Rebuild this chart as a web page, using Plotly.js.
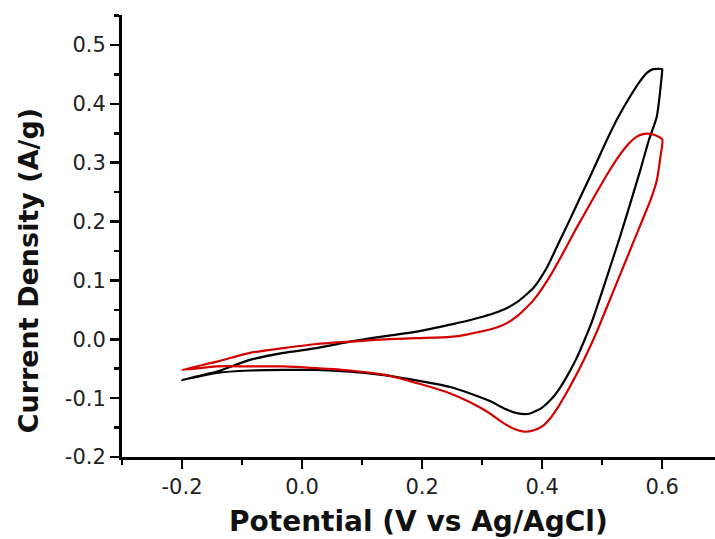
<!DOCTYPE html>
<html>
<head>
<meta charset="utf-8">
<script src="https://cdn.plot.ly/plotly-3.0.1.min.js"></script>
<style>html,body{margin:0;padding:0;background:#fff;}#chart{width:715px;height:539px;}</style>
</head>
<body>
<div id="chart"></div>
<script>
// Black CV loop (forward then reverse scan)
var blackPotential = [-0.2,-0.142,-0.087,-0.031,0.024,0.08,0.136,0.191,0.247,0.274,0.33,0.358,0.386,0.408,0.424,0.447,0.463,0.486,0.508,0.527,0.545,0.562,0.575,0.585,0.6,
  0.6,0.591,0.578,0.562,0.546,0.53,0.514,0.498,0.483,0.469,0.456,0.443,0.43,0.415,0.40,0.38,0.36,0.34,0.313,0.28,0.247,0.197,0.136,0.08,0.024,-0.031,-0.087,-0.142,-0.2];
var blackCurrent = [-0.069,-0.055,-0.035,-0.023,-0.015,-0.004,0.005,0.013,0.025,0.031,0.048,0.063,0.088,0.122,0.156,0.205,0.240,0.290,0.339,0.378,0.41,0.437,0.453,0.459,0.459,
  0.456,0.378,0.339,0.282,0.228,0.175,0.125,0.075,0.030,-0.005,-0.035,-0.060,-0.082,-0.102,-0.116,-0.126,-0.126,-0.119,-0.105,-0.092,-0.081,-0.071,-0.061,-0.055,-0.052,-0.052,-0.053,-0.057,-0.069];

// Red CV loop
var redPotential = [-0.2,-0.142,-0.087,-0.031,0.024,0.08,0.136,0.191,0.247,0.274,0.33,0.358,0.386,0.413,0.441,0.455,0.47,0.49,0.51,0.527,0.543,0.557,0.57,0.585,0.6,
  0.597,0.591,0.58,0.566,0.552,0.538,0.524,0.51,0.496,0.482,0.468,0.454,0.44,0.426,0.413,0.40,0.385,0.37,0.355,0.335,0.31,0.28,0.247,0.197,0.136,0.08,0.024,-0.031,-0.087,-0.142,-0.2];
var redCurrent = [-0.052,-0.038,-0.023,-0.015,-0.008,-0.004,0.0,0.002,0.004,0.008,0.022,0.039,0.067,0.107,0.158,0.185,0.212,0.248,0.283,0.31,0.331,0.344,0.349,0.348,0.340,
  0.31,0.27,0.235,0.2,0.165,0.13,0.095,0.06,0.025,-0.008,-0.038,-0.066,-0.092,-0.116,-0.135,-0.148,-0.155,-0.157,-0.153,-0.142,-0.124,-0.107,-0.092,-0.076,-0.060,-0.053,-0.049,-0.046,-0.046,-0.046,-0.052];

var xTickVals = [-0.2, 0.0, 0.2, 0.4, 0.6];
var xTickText = ["-0.2", "0.0", "0.2", "0.4", "0.6"];
var yTickVals = [-0.2, -0.1, 0.0, 0.1, 0.2, 0.3, 0.4, 0.5];
var yTickText = ["-0.2", "-0.1", "0.0", "0.1", "0.2", "0.3", "0.4", "0.5"];

var xTitle = "Potential (V vs Ag/AgCl)";
var yTitle = "Current Density (A/g)";

var traces = [
  {x: blackPotential, y: blackCurrent, mode: "lines", type: "scatter",
   line: {color: "#000000", width: 2.2, shape: "spline", smoothing: 0.6}, showlegend: false, hoverinfo: "skip"},
  {x: redPotential, y: redCurrent, mode: "lines", type: "scatter",
   line: {color: "#d40000", width: 2.2, shape: "spline", smoothing: 0.6}, showlegend: false, hoverinfo: "skip"}
];

var tickFont = {family: "DejaVu Sans", size: 21, color: "#222222"};
var titleFont = {family: "DejaVu Sans", size: 28, color: "#111111", weight: "bold"};

var layout = {
  width: 715, height: 539,
  margin: {l: 122, r: 0, t: 15, b: 82, pad: 0},
  paper_bgcolor: "#ffffff", plot_bgcolor: "#ffffff",
  xaxis: {
    range: [-0.3, 0.688], showgrid: false, zeroline: false,
    showline: true, linecolor: "#000000", linewidth: 3,
    tickmode: "array", tickvals: xTickVals, ticktext: xTickText,
    ticks: "outside", ticklen: 9, tickwidth: 2.5, tickcolor: "#000000",
    minor: {tickmode: "linear", tick0: -0.3, dtick: 0.1, ticks: "outside", ticklen: 5, tickwidth: 2.5, tickcolor: "#000000"},
    tickfont: tickFont
  },
  yaxis: {
    range: [-0.2, 0.551], showgrid: false, zeroline: false,
    showline: true, linecolor: "#000000", linewidth: 3,
    tickmode: "array", tickvals: yTickVals, ticktext: yTickText,
    ticks: "outside", ticklen: 9, tickwidth: 2.5, tickcolor: "#000000",
    minor: {tickmode: "linear", tick0: -0.25, dtick: 0.1, ticks: "outside", ticklen: 5, tickwidth: 2.5, tickcolor: "#000000"},
    tickfont: tickFont
  },
  annotations: [
    {text: xTitle, xref: "paper", yref: "paper", x: 0.5, y: -0.147, xanchor: "center", yanchor: "middle",
     showarrow: false, font: titleFont},
    {text: yTitle, xref: "paper", yref: "paper", x: -0.1585, y: 0.42, xanchor: "center", yanchor: "middle",
     textangle: -90, showarrow: false, font: {family: "DejaVu Sans", size: 27, color: "#111111", weight: "bold"}}
  ]
};

Plotly.newPlot("chart", traces, layout, {staticPlot: true, displayModeBar: false});
</script>
</body>
</html>
